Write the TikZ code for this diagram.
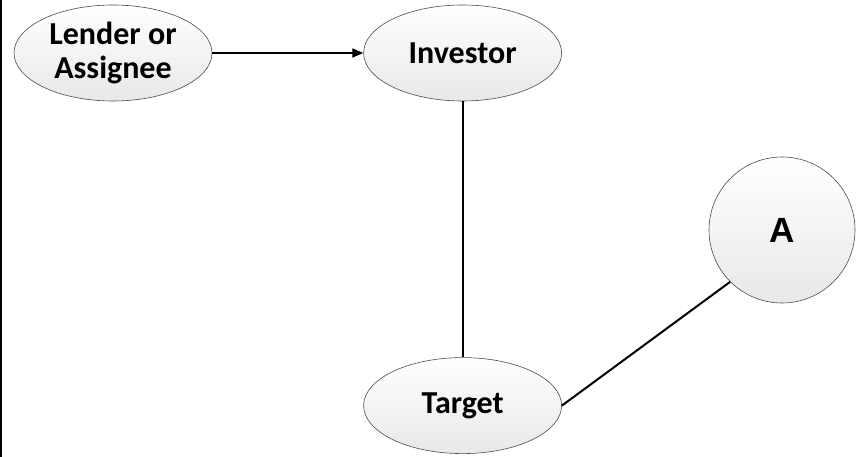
\documentclass[tikz,border=0pt]{standalone}
\usepackage{fontspec}
\setmainfont{Carlito}
\newfontfamily\letterfont{Liberation Sans}
\usetikzlibrary{shapes,arrows,arrows.meta,positioning}

\begin{document}
\begin{tikzpicture}[
    x=1pt, y=-1pt,
    party/.style={ellipse, draw=black!70, line width=0.6pt, top color=white, bottom color=black!9,
        minimum width=198pt, minimum height=96pt, inner sep=0pt, align=center,
        font=\fontsize{32}{34}\selectfont\bfseries},
    entity/.style={circle, draw=black!70, line width=0.6pt, top color=white, bottom color=black!9,
        minimum size=146pt, inner sep=0pt, font=\letterfont\fontsize{35}{38}\selectfont\bfseries},
    link/.style={line width=2pt},
    arrow/.style={->, >={Triangle[length=11pt,width=9pt]}, line width=2pt}
]
    \useasboundingbox (0,0) rectangle (856,457);
    \draw[line width=2pt] (1,0) -- (1,457);

    \node[party] (lender) at (113,53) {Lender or\\Assignee};
    \node[party, right=151pt of lender] (investor) {Investor};
    \node[party, below=256pt of investor] (target) {Target};
    \node[entity] (a) at (782,230) {A};

    \draw[arrow] (lender) -- (investor);
    \draw[link] (investor) -- (target);
    \draw[link] (target.east) -- (a.225);
\end{tikzpicture}
\end{document}
